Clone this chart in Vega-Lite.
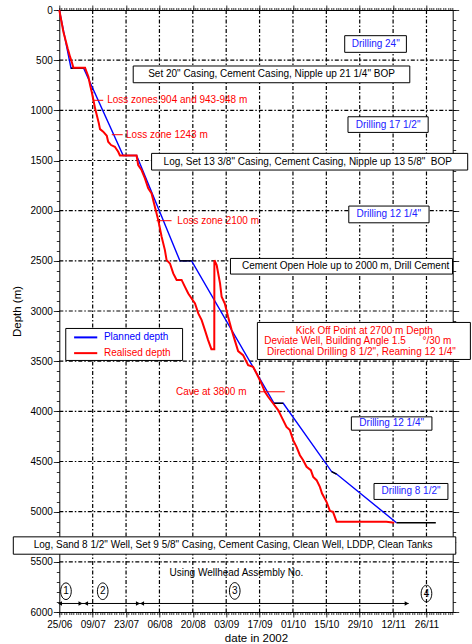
{
  "$schema": "https://vega.github.io/schema/vega-lite/v6.json",
  "width": 393.4,
  "height": 602,
  "autosize": {"type": "none"},
  "padding": {"left": 59.3, "top": 10, "right": 19.3, "bottom": 32},
  "background": "white",
  "config": {
    "view": {"stroke": "black", "strokeWidth": 1},
    "font": "Liberation Sans",
    "axis": {"labelFont": "Liberation Sans", "titleFont": "Liberation Sans", "labelColor": "black", "titleColor": "black", "tickColor": "black", "domain": false, "tickWidth": 0.8, "grid": false},
    "text": {"font": "Liberation Sans", "fontSize": 10}
  },
  "datasets": {
    "gridDates": [
      {"date": "2002-07-09T00:00Z"}, {"date": "2002-07-23T00:00Z"}, {"date": "2002-08-06T00:00Z"}, {"date": "2002-08-20T00:00Z"},
      {"date": "2002-09-03T00:00Z"}, {"date": "2002-09-17T00:00Z"}, {"date": "2002-10-01T00:00Z"}, {"date": "2002-10-15T00:00Z"},
      {"date": "2002-10-29T00:00Z"}, {"date": "2002-11-12T00:00Z"}, {"date": "2002-11-26T00:00Z"}
    ],
    "gridDepths": [
      {"depth": 500}, {"depth": 1000}, {"depth": 1500}, {"depth": 2000}, {"depth": 2500}, {"depth": 3000},
      {"depth": 3500}, {"depth": 4000}, {"depth": 4500}, {"depth": 5000}, {"depth": 5500}
    ],
    "planned": [
      {"date": "2002-06-25T00:00Z", "depth": 0},
      {"date": "2002-06-29T22:00Z", "depth": 580},
      {"date": "2002-07-05T05:00Z", "depth": 580},
      {"date": "2002-07-21T19:00Z", "depth": 1450},
      {"date": "2002-07-27T10:00Z", "depth": 1450},
      {"date": "2002-08-14T14:00Z", "depth": 2500},
      {"date": "2002-08-19T12:00Z", "depth": 2500},
      {"date": "2002-09-23T02:00Z", "depth": 3920},
      {"date": "2002-09-26T22:00Z", "depth": 3920},
      {"date": "2002-10-17T05:00Z", "depth": 4600},
      {"date": "2002-10-19T07:00Z", "depth": 4625},
      {"date": "2002-11-13T10:00Z", "depth": 5110}
    ],
    "pauses": [
      {"seg": 1, "date": "2002-06-29T22:00Z", "depth": 580},
      {"seg": 1, "date": "2002-07-05T05:00Z", "depth": 580},
      {"seg": 3, "date": "2002-08-14T14:00Z", "depth": 2500},
      {"seg": 3, "date": "2002-08-19T12:00Z", "depth": 2500},
      {"seg": 4, "date": "2002-09-23T02:00Z", "depth": 3920},
      {"seg": 4, "date": "2002-09-26T22:00Z", "depth": 3920},
      {"seg": 5, "date": "2002-10-17T05:00Z", "depth": 4600},
      {"seg": 5, "date": "2002-10-19T07:00Z", "depth": 4625},
      {"seg": 6, "date": "2002-11-13T10:00Z", "depth": 5110},
      {"seg": 6, "date": "2002-11-29T22:00Z", "depth": 5110}
    ],
    "realised": [
      {"i": 1, "date": "2002-06-25T00:00Z", "depth": 0},
      {"i": 2, "date": "2002-06-26T17:00Z", "depth": 216},
      {"i": 3, "date": "2002-06-28T12:00Z", "depth": 382},
      {"i": 4, "date": "2002-06-29T12:00Z", "depth": 465},
      {"i": 5, "date": "2002-06-30T05:00Z", "depth": 515},
      {"i": 6, "date": "2002-06-30T22:00Z", "depth": 575},
      {"i": 7, "date": "2002-07-05T19:00Z", "depth": 575},
      {"i": 8, "date": "2002-07-07T05:00Z", "depth": 665},
      {"i": 9, "date": "2002-07-07T22:00Z", "depth": 748},
      {"i": 10, "date": "2002-07-08T14:00Z", "depth": 814},
      {"i": 11, "date": "2002-07-09T07:00Z", "depth": 897},
      {"i": 12, "date": "2002-07-10T00:00Z", "depth": 980},
      {"i": 13, "date": "2002-07-10T17:00Z", "depth": 1047},
      {"i": 14, "date": "2002-07-11T14:00Z", "depth": 1130},
      {"i": 15, "date": "2002-07-12T02:00Z", "depth": 1187},
      {"i": 16, "date": "2002-07-13T10:00Z", "depth": 1213},
      {"i": 17, "date": "2002-07-14T22:00Z", "depth": 1253},
      {"i": 18, "date": "2002-07-15T12:00Z", "depth": 1313},
      {"i": 19, "date": "2002-07-16T17:00Z", "depth": 1346},
      {"i": 20, "date": "2002-07-18T07:00Z", "depth": 1363},
      {"i": 21, "date": "2002-07-19T17:00Z", "depth": 1413},
      {"i": 22, "date": "2002-07-20T10:00Z", "depth": 1450},
      {"i": 23, "date": "2002-07-27T10:00Z", "depth": 1450},
      {"i": 24, "date": "2002-07-28T02:00Z", "depth": 1545},
      {"i": 25, "date": "2002-07-29T12:00Z", "depth": 1595},
      {"i": 26, "date": "2002-07-30T22:00Z", "depth": 1678},
      {"i": 27, "date": "2002-08-01T07:00Z", "depth": 1778},
      {"i": 28, "date": "2002-08-02T17:00Z", "depth": 1828},
      {"i": 29, "date": "2002-08-04T02:00Z", "depth": 1961},
      {"i": 30, "date": "2002-08-05T12:00Z", "depth": 2094},
      {"i": 31, "date": "2002-08-06T22:00Z", "depth": 2260},
      {"i": 32, "date": "2002-08-08T07:00Z", "depth": 2393},
      {"i": 33, "date": "2002-08-09T00:00Z", "depth": 2493},
      {"i": 34, "date": "2002-08-10T10:00Z", "depth": 2526},
      {"i": 35, "date": "2002-08-11T19:00Z", "depth": 2625},
      {"i": 36, "date": "2002-08-13T05:00Z", "depth": 2690},
      {"i": 37, "date": "2002-08-15T07:00Z", "depth": 2690},
      {"i": 38, "date": "2002-08-16T17:00Z", "depth": 2759},
      {"i": 39, "date": "2002-08-18T02:00Z", "depth": 2825},
      {"i": 40, "date": "2002-08-19T12:00Z", "depth": 2875},
      {"i": 41, "date": "2002-08-20T22:00Z", "depth": 2925},
      {"i": 42, "date": "2002-08-22T07:00Z", "depth": 3024},
      {"i": 43, "date": "2002-08-23T17:00Z", "depth": 3091},
      {"i": 44, "date": "2002-08-25T02:00Z", "depth": 3190},
      {"i": 45, "date": "2002-08-26T10:00Z", "depth": 3290},
      {"i": 46, "date": "2002-08-27T19:00Z", "depth": 3380},
      {"i": 47, "date": "2002-08-29T00:00Z", "depth": 3380},
      {"i": 48, "date": "2002-08-29T01:00Z", "depth": 2493},
      {"i": 49, "date": "2002-08-30T00:00Z", "depth": 2542},
      {"i": 50, "date": "2002-08-31T10:00Z", "depth": 2725},
      {"i": 51, "date": "2002-09-01T02:00Z", "depth": 2858},
      {"i": 52, "date": "2002-09-02T10:00Z", "depth": 2925},
      {"i": 53, "date": "2002-09-03T19:00Z", "depth": 3058},
      {"i": 54, "date": "2002-09-05T07:00Z", "depth": 3190},
      {"i": 55, "date": "2002-09-06T14:00Z", "depth": 3290},
      {"i": 56, "date": "2002-09-08T00:00Z", "depth": 3400},
      {"i": 57, "date": "2002-09-10T02:00Z", "depth": 3440},
      {"i": 58, "date": "2002-09-12T05:00Z", "depth": 3539},
      {"i": 59, "date": "2002-09-14T07:00Z", "depth": 3556},
      {"i": 60, "date": "2002-09-16T10:00Z", "depth": 3656},
      {"i": 61, "date": "2002-09-17T19:00Z", "depth": 3722},
      {"i": 62, "date": "2002-09-19T05:00Z", "depth": 3805},
      {"i": 63, "date": "2002-09-20T14:00Z", "depth": 3855},
      {"i": 64, "date": "2002-09-22T17:00Z", "depth": 3922},
      {"i": 65, "date": "2002-09-24T19:00Z", "depth": 3988},
      {"i": 66, "date": "2002-09-26T05:00Z", "depth": 4055},
      {"i": 67, "date": "2002-09-28T07:00Z", "depth": 4155},
      {"i": 68, "date": "2002-09-29T17:00Z", "depth": 4187},
      {"i": 69, "date": "2002-10-01T02:00Z", "depth": 4287},
      {"i": 70, "date": "2002-10-02T12:00Z", "depth": 4354},
      {"i": 71, "date": "2002-10-03T22:00Z", "depth": 4437},
      {"i": 72, "date": "2002-10-05T07:00Z", "depth": 4487},
      {"i": 73, "date": "2002-10-06T17:00Z", "depth": 4553},
      {"i": 74, "date": "2002-10-08T12:00Z", "depth": 4586},
      {"i": 75, "date": "2002-10-09T12:00Z", "depth": 4653},
      {"i": 76, "date": "2002-10-10T22:00Z", "depth": 4686},
      {"i": 77, "date": "2002-10-12T07:00Z", "depth": 4753},
      {"i": 78, "date": "2002-10-13T05:00Z", "depth": 4819},
      {"i": 79, "date": "2002-10-15T02:00Z", "depth": 4902},
      {"i": 80, "date": "2002-10-16T12:00Z", "depth": 4992},
      {"i": 81, "date": "2002-10-17T19:00Z", "depth": 5002},
      {"i": 82, "date": "2002-10-19T07:00Z", "depth": 5100},
      {"i": 83, "date": "2002-11-09T05:00Z", "depth": 5100},
      {"i": 84, "date": "2002-11-12T12:00Z", "depth": 5110}
    ],
    "boxes": [
      {"name": "drill24", "x1": "2002-10-22T17:00Z", "x2": "2002-11-17T14:00Z", "y1": 256, "y2": 422},
      {"name": "set20", "x1": "2002-07-26T00:00Z", "x2": "2002-11-19T00:00Z", "y1": 558, "y2": 725},
      {"name": "drill17", "x1": "2002-10-24T02:00Z", "x2": "2002-11-26T17:00Z", "y1": 1064, "y2": 1220},
      {"name": "log13", "x1": "2002-08-02T17:00Z", "x2": "2002-12-13T07:00Z", "y1": 1429, "y2": 1595},
      {"name": "drill12a", "x1": "2002-10-24T10:00Z", "x2": "2002-11-27T02:00Z", "y1": 1954, "y2": 2121},
      {"name": "cement", "x1": "2002-09-04T19:00Z", "x2": "2002-12-06T22:00Z", "y1": 2476, "y2": 2632},
      {"name": "kickoff", "x1": "2002-09-16T02:00Z", "x2": "2002-12-14T10:00Z", "y1": 3114, "y2": 3483},
      {"name": "legend", "x1": "2002-06-27T17:00Z", "x2": "2002-08-15T17:00Z", "y1": 3174, "y2": 3493},
      {"name": "drill12b", "x1": "2002-10-25T12:00Z", "x2": "2002-11-28T07:00Z", "y1": 4055, "y2": 4188},
      {"name": "drill8", "x1": "2002-11-04T00:00Z", "x2": "2002-12-05T00:00Z", "y1": 4719, "y2": 4878},
      {"name": "logsand", "x1": "2002-06-05T17:00Z", "x2": "2002-12-08T07:00Z", "y1": 5251, "y2": 5424}
    ],
    "notes": [
      {"kind": "operation", "text": "Set 20\" Casing, Cement Casing, Nipple up 21 1/4\" BOP", "date": "2002-09-22T00:00Z", "depth": 641},
      {"kind": "operation", "text": "Log, Set 13 3/8\" Casing, Cement Casing, Nipple up 13 5/8\"\u00a0 BOP", "date": "2002-10-07T05:00Z", "depth": 1512},
      {"kind": "operation", "text": "Cement Open Hole up to 2000 m, Drill Cement", "date": "2002-10-23T02:00Z", "depth": 2552},
      {"kind": "operation", "text": "Log, Sand 8 1/2\" Well, Set 9 5/8\" Casing, Cement Casing, Clean Well, LDDP, Clean Tanks", "date": "2002-09-05T22:00Z", "depth": 5337},
      {"kind": "operation", "text": "Using Wellhead Assembly No.", "date": "2002-09-07T07:00Z", "depth": 5610},
      {"kind": "drilling", "text": "Drilling 24\"", "date": "2002-11-04T17:00Z", "depth": 339},
      {"kind": "drilling", "text": "Drilling 17 1/2\"", "date": "2002-11-09T22:00Z", "depth": 1142},
      {"kind": "drilling", "text": "Drilling 12 1/4\"", "date": "2002-11-10T05:00Z", "depth": 2037},
      {"kind": "drilling", "text": "Drilling 12 1/4\"", "date": "2002-11-11T10:00Z", "depth": 4118},
      {"kind": "drilling", "text": "Drilling 8 1/2\"", "date": "2002-11-19T12:00Z", "depth": 4796},
      {"kind": "kickoff", "text": "Kick Off Point at 2700 m Depth", "date": "2002-10-30T22:00Z", "depth": 3200},
      {"kind": "kickoff", "text": "Deviate Well, Building Angle 1.5\u00a0\u00a0\u00a0\u00a0\u00a0\u00a0°/30 m", "date": "2002-10-28T05:00Z", "depth": 3303},
      {"kind": "kickoff", "text": "Directional Drilling 8 1/2\", Reaming 12 1/4\"", "date": "2002-10-29T17:00Z", "depth": 3407}
    ],
    "losses": [
      {"text": "Loss zones 904 and 943-948 m", "from": "2002-07-09T00:00Z", "to": "2002-07-13T10:00Z", "at": "2002-07-15T02:00Z", "depth": 900},
      {"text": "Loss zone 1243 m", "from": "2002-07-17T00:00Z", "to": "2002-07-21T14:00Z", "at": "2002-07-23T00:00Z", "depth": 1243},
      {"text": "Loss zone 2100 m", "from": "2002-08-04T19:00Z", "to": "2002-08-11T02:00Z", "at": "2002-08-13T12:00Z", "depth": 2100},
      {"text": "Cave at 3800 m", "from": "2002-09-17T02:00Z", "to": "2002-09-27T14:00Z", "at": "2002-08-12T22:00Z", "depth": 3805}
    ],
    "legend": [
      {"series": "Planned depth", "from": "2002-07-01T05:00Z", "to": "2002-07-10T22:00Z", "at": "2002-07-13T17:00Z", "depth": 3263},
      {"series": "Realised depth", "from": "2002-07-01T05:00Z", "to": "2002-07-10T22:00Z", "at": "2002-07-13T17:00Z", "depth": 3420}
    ],
    "assembly": [
      {"n": "1", "date": "2002-06-27T19:00Z", "depth": 5793},
      {"n": "2", "date": "2002-07-13T05:00Z", "depth": 5793},
      {"n": "3", "date": "2002-09-06T14:00Z", "depth": 5790},
      {"n": "4", "date": "2002-11-26T00:00Z", "depth": 5816}
    ],
    "assemblyLine": [
      {"from": "2002-06-25T00:00Z", "to": "2002-11-18T12:00Z", "depth": 5915}
    ],
    "assemblyMarks": [
      {"date": "2002-06-25T07:00Z", "dir": "left", "depth": 5915},
      {"date": "2002-07-03T22:00Z", "dir": "right", "depth": 5915},
      {"date": "2002-07-06T05:00Z", "dir": "left", "depth": 5915},
      {"date": "2002-07-28T00:00Z", "dir": "right", "depth": 5915},
      {"date": "2002-07-29T17:00Z", "dir": "left", "depth": 5915},
      {"date": "2002-11-17T17:00Z", "dir": "right", "depth": 5915}
    ]
  },
  "resolve": {"axis": {"x": "independent", "y": "independent"}},
  "layer": [
    {
      "data": {"name": "gridDates"},
      "mark": {"type": "rule", "color": "#000000", "strokeWidth": 1.2, "strokeDash": [4, 2, 1.5, 2]},
      "encoding": {
        "x": {"field": "date", "type": "temporal", "scale": {"type": "utc"}, "axis": null},
        "y": {"datum": 0, "type": "quantitative", "axis": null},
        "y2": {"datum": 6000}
      }
    },
    {
      "data": {"name": "gridDepths"},
      "mark": {"type": "rule", "color": "#000000", "strokeWidth": 1.2, "strokeDash": [4, 2, 1.5, 2]},
      "encoding": {
        "y": {"field": "depth", "type": "quantitative", "axis": null},
        "x": {"datum": {"year": 2002, "month": 6, "date": 25, "utc": true}, "type": "temporal", "scale": {"type": "utc"}, "axis": null},
        "x2": {"datum": {"year": 2002, "month": 12, "date": 7, "utc": true}}
      }
    },
    {
      "data": {"name": "planned"},
      "mark": {"type": "line", "color": "#0000ff", "strokeWidth": 1.4},
      "encoding": {
        "x": {
          "field": "date", "type": "temporal",
          "scale": {"type": "utc", "domain": [{"year": 2002, "month": 6, "date": 25, "utc": true}, {"year": 2002, "month": 12, "date": 7, "utc": true}], "nice": false},
          "axis": {
            "orient": "bottom", "title": "date in 2002", "titleFontSize": 11.5, "titleFontWeight": "normal", "titlePadding": 3,
            "values": [
              {"year": 2002, "month": 6, "date": 25, "utc": true},
              {"year": 2002, "month": 7, "date": 9, "utc": true},
              {"year": 2002, "month": 7, "date": 23, "utc": true},
              {"year": 2002, "month": 8, "date": 6, "utc": true},
              {"year": 2002, "month": 8, "date": 20, "utc": true},
              {"year": 2002, "month": 9, "date": 3, "utc": true},
              {"year": 2002, "month": 9, "date": 17, "utc": true},
              {"year": 2002, "month": 10, "date": 1, "utc": true},
              {"year": 2002, "month": 10, "date": 15, "utc": true},
              {"year": 2002, "month": 10, "date": 29, "utc": true},
              {"year": 2002, "month": 11, "date": 12, "utc": true},
              {"year": 2002, "month": 11, "date": 26, "utc": true}
            ],
            "labelExpr": "utcFormat(datum.value, '%d/%m')",
            "labelOverlap": false, "labelFlush": false, "labelBound": false, "labelFontSize": 10, "labelPadding": 2,
            "tickSize": 5
          }
        },
        "y": {
          "field": "depth", "type": "quantitative",
          "scale": {"domain": [0, 6000], "reverse": true, "nice": false, "zero": false},
          "axis": {
            "orient": "left", "title": "Depth (m)", "titleFontSize": 11.5, "titleFontWeight": "normal", "titlePadding": 8,
            "values": [0, 500, 1000, 1500, 2000, 2500, 3000, 3500, 4000, 4500, 5000, 5500, 6000],
            "format": "d",
            "labelOverlap": false, "labelBound": false, "labelFlush": false, "labelFontSize": 10, "labelPadding": 1,
            "tickSize": 6
          }
        }
      }
    },
    {
      "data": {"name": "pauses"},
      "mark": {"type": "line", "color": "black", "strokeWidth": 1.4},
      "encoding": {
        "x": {
          "field": "date", "type": "temporal", "scale": {"type": "utc"},
          "axis": {"orient": "bottom", "title": null, "labels": false, "tickCount": {"interval": "day", "step": 1}, "tickSize": 2.5}
        },
        "y": {
          "field": "depth", "type": "quantitative",
          "axis": {"orient": "left", "title": null, "labels": false, "values": [0,100,200,300,400,500,600,700,800,900,1000,1100,1200,1300,1400,1500,1600,1700,1800,1900,2000,2100,2200,2300,2400,2500,2600,2700,2800,2900,3000,3100,3200,3300,3400,3500,3600,3700,3800,3900,4000,4100,4200,4300,4400,4500,4600,4700,4800,4900,5000,5100,5200,5300,5400,5500,5600,5700,5800,5900,6000], "tickSize": 3}
        },
        "detail": {"field": "seg"}
      }
    },
    {
      "data": {"name": "realised"},
      "mark": {"type": "line", "color": "#ff0000", "strokeWidth": 2},
      "encoding": {
        "x": {
          "field": "date", "type": "temporal", "scale": {"type": "utc"},
          "axis": {"orient": "top", "title": null, "labels": false, "tickCount": {"interval": "day", "step": 1}, "tickSize": 2.5}
        },
        "y": {
          "field": "depth", "type": "quantitative",
          "axis": {"orient": "right", "title": null, "labels": false, "values": [0,100,200,300,400,500,600,700,800,900,1000,1100,1200,1300,1400,1500,1600,1700,1800,1900,2000,2100,2200,2300,2400,2500,2600,2700,2800,2900,3000,3100,3200,3300,3400,3500,3600,3700,3800,3900,4000,4100,4200,4300,4400,4500,4600,4700,4800,4900,5000,5100,5200,5300,5400,5500,5600,5700,5800,5900,6000], "tickSize": 3}
        },
        "order": {"field": "i", "type": "quantitative"}
      }
    },
    {
      "data": {"name": "boxes"},
      "mark": {"type": "rect", "fill": "white", "stroke": "black", "strokeWidth": 1, "clip": false},
      "encoding": {
        "x": {
          "field": "x1", "type": "temporal", "scale": {"type": "utc"},
          "axis": {
            "orient": "top", "title": null, "labels": false, "tickSize": 5,
            "values": [
              {"year": 2002, "month": 6, "date": 25, "utc": true},
              {"year": 2002, "month": 7, "date": 9, "utc": true},
              {"year": 2002, "month": 7, "date": 23, "utc": true},
              {"year": 2002, "month": 8, "date": 6, "utc": true},
              {"year": 2002, "month": 8, "date": 20, "utc": true},
              {"year": 2002, "month": 9, "date": 3, "utc": true},
              {"year": 2002, "month": 9, "date": 17, "utc": true},
              {"year": 2002, "month": 10, "date": 1, "utc": true},
              {"year": 2002, "month": 10, "date": 15, "utc": true},
              {"year": 2002, "month": 10, "date": 29, "utc": true},
              {"year": 2002, "month": 11, "date": 12, "utc": true},
              {"year": 2002, "month": 11, "date": 26, "utc": true}
            ]
          }
        },
        "x2": {"field": "x2"},
        "y": {
          "field": "y1", "type": "quantitative",
          "axis": {"orient": "right", "title": null, "labels": false, "tickSize": 6, "values": [0, 500, 1000, 1500, 2000, 2500, 3000, 3500, 4000, 4500, 5000, 5500, 6000]}
        },
        "y2": {"field": "y2"}
      }
    },
    {
      "data": {"name": "notes"},
      "transform": [{"filter": "datum.kind === 'operation'"}],
      "mark": {"type": "text", "align": "center", "baseline": "middle", "fontSize": 10, "color": "black", "clip": false},
      "encoding": {
        "x": {"field": "date", "type": "temporal", "scale": {"type": "utc"}, "axis": null},
        "y": {"field": "depth", "type": "quantitative", "axis": null},
        "text": {"field": "text"}
      }
    },
    {
      "data": {"name": "notes"},
      "transform": [{"filter": "datum.kind === 'drilling'"}],
      "mark": {"type": "text", "align": "center", "baseline": "middle", "fontSize": 10, "color": "#2020ff", "clip": false},
      "encoding": {
        "x": {"field": "date", "type": "temporal", "scale": {"type": "utc"}, "axis": null},
        "y": {"field": "depth", "type": "quantitative", "axis": null},
        "text": {"field": "text"}
      }
    },
    {
      "data": {"name": "notes"},
      "transform": [{"filter": "datum.kind === 'kickoff'"}],
      "mark": {"type": "text", "align": "center", "baseline": "middle", "fontSize": 10, "color": "#ff0000", "clip": false},
      "encoding": {
        "x": {"field": "date", "type": "temporal", "scale": {"type": "utc"}, "axis": null},
        "y": {"field": "depth", "type": "quantitative", "axis": null},
        "text": {"field": "text"}
      }
    },
    {
      "data": {"name": "losses"},
      "mark": {"type": "rule", "color": "#ff0000", "strokeWidth": 1},
      "encoding": {
        "x": {"field": "from", "type": "temporal", "scale": {"type": "utc"}, "axis": null},
        "x2": {"field": "to"},
        "y": {"field": "depth", "type": "quantitative", "axis": null}
      }
    },
    {
      "data": {"name": "losses"},
      "mark": {"type": "text", "align": "left", "baseline": "middle", "fontSize": 10, "color": "#ff0000"},
      "encoding": {
        "x": {"field": "at", "type": "temporal", "scale": {"type": "utc"}, "axis": null},
        "y": {"field": "depth", "type": "quantitative", "axis": null},
        "text": {"field": "text"}
      }
    },
    {
      "data": {"name": "legend"},
      "transform": [{"filter": "datum.series === 'Planned depth'"}],
      "layer": [
        {
          "mark": {"type": "rule", "strokeWidth": 2, "color": "#0000ff"},
          "encoding": {
            "x": {"field": "from", "type": "temporal", "scale": {"type": "utc"}, "axis": null},
            "x2": {"field": "to"},
            "y": {"field": "depth", "type": "quantitative", "axis": null}
          }
        },
        {
          "mark": {"type": "text", "align": "left", "baseline": "middle", "fontSize": 10, "color": "#0000ff"},
          "encoding": {
            "x": {"field": "at", "type": "temporal", "scale": {"type": "utc"}, "axis": null},
            "y": {"field": "depth", "type": "quantitative", "axis": null},
            "text": {"field": "series"}
          }
        }
      ]
    },
    {
      "data": {"name": "legend"},
      "transform": [{"filter": "datum.series === 'Realised depth'"}],
      "layer": [
        {
          "mark": {"type": "rule", "strokeWidth": 2, "color": "#ff0000"},
          "encoding": {
            "x": {"field": "from", "type": "temporal", "scale": {"type": "utc"}, "axis": null},
            "x2": {"field": "to"},
            "y": {"field": "depth", "type": "quantitative", "axis": null}
          }
        },
        {
          "mark": {"type": "text", "align": "left", "baseline": "middle", "fontSize": 10, "color": "#ff0000"},
          "encoding": {
            "x": {"field": "at", "type": "temporal", "scale": {"type": "utc"}, "axis": null},
            "y": {"field": "depth", "type": "quantitative", "axis": null},
            "text": {"field": "series"}
          }
        }
      ]
    },
    {
      "data": {"name": "assemblyLine"},
      "mark": {"type": "rule", "color": "black", "strokeWidth": 1},
      "encoding": {
        "x": {"field": "from", "type": "temporal", "scale": {"type": "utc"}, "axis": null},
        "x2": {"field": "to"},
        "y": {"field": "depth", "type": "quantitative", "axis": null}
      }
    },
    {
      "data": {"name": "assemblyMarks"},
      "mark": {"type": "point", "filled": true, "color": "black", "size": 22, "opacity": 1},
      "encoding": {
        "x": {"field": "date", "type": "temporal", "scale": {"type": "utc"}, "axis": null},
        "y": {"field": "depth", "type": "quantitative", "axis": null},
        "shape": {"field": "dir", "type": "nominal", "scale": {"domain": ["left", "right"], "range": ["triangle-left", "triangle-right"]}, "legend": null}
      }
    },
    {
      "data": {"name": "assembly"},
      "mark": {"type": "point", "filled": false, "stroke": "black", "strokeWidth": 1, "size": 276, "opacity": 1, "shape": "M -0.64,0 A 0.64,1 0 1,0 0.64,0 A 0.64,1 0 1,0 -0.64,0 Z"},
      "encoding": {
        "x": {"field": "date", "type": "temporal", "scale": {"type": "utc"}, "axis": null},
        "y": {"field": "depth", "type": "quantitative", "axis": null}
      }
    },
    {
      "data": {"name": "assembly"},
      "mark": {"type": "text", "align": "center", "baseline": "middle", "fontSize": 10, "color": "black"},
      "encoding": {
        "x": {"field": "date", "type": "temporal", "scale": {"type": "utc"}, "axis": null},
        "y": {"field": "depth", "type": "quantitative", "axis": null},
        "text": {"field": "n"}
      }
    }
  ]
}
